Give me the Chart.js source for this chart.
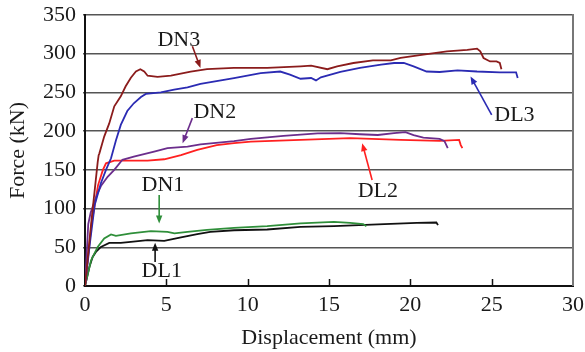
<!DOCTYPE html>
<html>
<head>
<meta charset="utf-8">
<script src="https://cdn.jsdelivr.net/npm/chart.js@4"></script>
<style>
html,body{margin:0;padding:0;background:#fff;}
#wrap{width:585px;height:352px;}
</style>
</head>
<body>
<div id="wrap"><canvas id="c" width="585" height="352"></canvas></div>
<script>
// ---- data ----
const dn3X = [0, 0.4, 0.78, 0.84, 0.88, 1.18, 1.49, 1.8, 2.2, 2.5, 2.82, 3.13, 3.4, 3.64, 3.85, 4.46, 5.28, 6.5, 7.5, 9.15, 11.2, 13.25, 13.9, 14.9, 15.5, 16.5, 17.7, 18.8, 19.4, 20.8, 22.25, 23.5, 24.1, 24.3, 24.5, 24.9, 25.3, 25.5, 25.6];
const dn3Y = [0, 85, 160, 169, 171, 193, 210, 232, 245, 258, 269, 277, 280, 277, 271.6, 270, 271.6, 277, 280, 281.6, 281.6, 283.7, 284.6, 280, 283.7, 288, 291.5, 291.5, 294.5, 298.8, 303, 305, 306.6, 303, 294.5, 290, 290, 288, 280];

const dl3X = [0, 0.3, 0.6, 0.98, 1.29, 1.6, 1.9, 2.2, 2.6, 3.0, 3.44, 3.74, 4.66, 5.48, 6.3, 7.1, 9.16, 10.8, 12.0, 12.6, 13.25, 13.9, 14.2, 14.5, 15.7, 16.9, 18.2, 19.0, 19.6, 20.2, 21.0, 21.8, 22.9, 24.1, 25.5, 26.5, 26.6];
const dl3Y = [0, 55, 105, 133, 150, 165, 188, 208, 226, 236, 244, 248, 250, 253.5, 256.5, 261, 268.6, 275, 277, 273, 267.7, 268.6, 265.5, 269.5, 276.4, 281.6, 286, 288, 288, 283.7, 277, 276.4, 278.5, 277, 276, 276, 268.6];

const dn2X = [0, 0.1, 0.2, 0.35, 0.6, 0.78, 1.0, 1.39, 1.8, 2.3, 3.0, 4.25, 5.07, 6.3, 7.1, 9.16, 10.2, 12.2, 14.3, 15.7, 16.9, 18.0, 19.0, 19.7, 20.2, 20.8, 21.8, 22.1, 22.3];
const dn2Y = [0, 40, 80, 95, 110, 120, 130, 141, 150, 163, 167, 173.6, 178, 180, 183, 187, 190, 194, 197, 197.4, 196, 195, 197.4, 198.7, 195, 191.7, 190, 187, 178];

const dl2X = [0, 0.4, 0.8, 1.1, 1.29, 1.8, 3.85, 4.87, 5.9, 6.9, 8.1, 9.16, 10.2, 13.25, 16.3, 19.4, 21.8, 23.0, 23.1, 23.2];
const dl2Y = [0, 80, 130, 150, 158.5, 162, 162, 163.7, 169, 175.8, 182, 184.5, 186.5, 188.7, 191, 188.7, 187.4, 188.7, 182, 178];

const dn1X = [0, 0.37, 0.78, 1.18, 1.6, 1.9, 2.82, 4.05, 5.07, 5.5, 6.3, 7.5, 9.16, 11.2, 13.25, 15.3, 16.3, 17.1, 17.3];
const dn1Y = [0, 33, 50.5, 61.4, 66.6, 64.8, 67.9, 70.9, 70, 68, 70, 72.5, 75, 77.3, 80.8, 82.9, 81.6, 80, 77.3];

const dl1X = [0, 0.27, 0.47, 0.67, 0.98, 1.49, 2.2, 2.82, 3.85, 4.87, 5.9, 6.9, 7.7, 9.16, 11.2, 13.25, 15.3, 18.4, 20.4, 21.6, 21.7];
const dl1Y = [0, 24.6, 37.6, 44, 50.5, 55.7, 55.7, 57, 59.2, 58.3, 62.7, 67, 70, 72, 73, 76.4, 77.3, 80, 81.6, 82, 78.6];

const seriesNames = ['DN3', 'DL3', 'DN2', 'DL2', 'DN1', 'DL1'];

// ---- styling ----
const FONT = '"Liberation Serif", "Times New Roman", serif';
const colors = {DN3: '#8b1c1c', DL3: '#2b2bb3', DN2: '#6b2d8c', DL2: '#ff2020', DN1: '#2f8f3a', DL1: '#111111'};
const seriesData = {DN3: [dn3X, dn3Y], DL3: [dl3X, dl3Y], DN2: [dn2X, dn2Y], DL2: [dl2X, dl2Y], DN1: [dn1X, dn1Y], DL1: [dl1X, dl1Y]};

function pts(xs, ys) { return xs.map((x, i) => ({x: x, y: ys[i]})); }

const datasets = seriesNames.map(n => ({
  label: n,
  data: pts(seriesData[n][0], seriesData[n][1]),
  borderColor: colors[n],
  backgroundColor: colors[n],
  borderWidth: 1.8,
  pointRadius: 0,
  tension: 0,
  fill: false
}));

// annotation labels and arrows, in data units
const labelTexts = ['DN3', 'DN2', 'DN1', 'DL1', 'DL2', 'DL3'];
const labelX = [5.77, 7.98, 4.79, 4.72, 18.0, 26.4];
const labelY = [318, 225, 130.4, 19, 122.7, 220];
const arrowFromX = [6.6, 6.6, 4.56, 4.31, 17.65, 25.0];
const arrowFromY = [309.6, 216.8, 117.5, 31, 137, 221];
const arrowToX = [7.1, 6.0, 4.56, 4.31, 17.04, 23.7];
const arrowToY = [281.6, 184.5, 80.8, 55.7, 184.5, 270.7];

const annotPlugin = {
  id: 'annot',
  afterDatasetsDraw(chart) {
    const ctx = chart.ctx;
    const xs = chart.scales.x, ys = chart.scales.y;
    const ca = chart.chartArea;
    ctx.save();
    // right frame border
    ctx.strokeStyle = '#777';
    ctx.lineWidth = 2;
    ctx.beginPath();
    ctx.moveTo(ca.right, ca.top - 1);
    ctx.lineTo(ca.right, ca.bottom);
    ctx.stroke();
    // inward x ticks
    ctx.strokeStyle = '#111';
    ctx.lineWidth = 1.5;
    for (let v = 5; v < 30; v += 5) {
      const px = Math.round(xs.getPixelForValue(v)) + 0.5;
      ctx.beginPath();
      ctx.moveTo(px, ca.bottom);
      ctx.lineTo(px, ca.bottom - 7);
      ctx.stroke();
    }
    // arrows
    for (let i = 0; i < labelTexts.length; i++) {
      const c = colors[labelTexts[i]];
      const x1 = xs.getPixelForValue(arrowFromX[i]), y1 = ys.getPixelForValue(arrowFromY[i]);
      const x2 = xs.getPixelForValue(arrowToX[i]), y2 = ys.getPixelForValue(arrowToY[i]);
      const ang = Math.atan2(y2 - y1, x2 - x1);
      const L = 8, W = 3.2;
      ctx.strokeStyle = c;
      ctx.fillStyle = c;
      ctx.lineWidth = 1.6;
      ctx.beginPath();
      ctx.moveTo(x1, y1);
      ctx.lineTo(x2 - Math.cos(ang) * L * 0.6, y2 - Math.sin(ang) * L * 0.6);
      ctx.stroke();
      ctx.beginPath();
      ctx.moveTo(x2, y2);
      ctx.lineTo(x2 - Math.cos(ang) * L - Math.sin(ang) * W, y2 - Math.sin(ang) * L + Math.cos(ang) * W);
      ctx.lineTo(x2 - Math.cos(ang) * L + Math.sin(ang) * W, y2 - Math.sin(ang) * L - Math.cos(ang) * W);
      ctx.closePath();
      ctx.fill();
    }
    // labels
    ctx.fillStyle = '#1a1a1a';
    ctx.font = '22px ' + FONT;
    ctx.textAlign = 'center';
    ctx.textBaseline = 'middle';
    for (let i = 0; i < labelTexts.length; i++) {
      ctx.fillText(labelTexts[i], xs.getPixelForValue(labelX[i]), ys.getPixelForValue(labelY[i]));
    }
    ctx.restore();
  }
};

new Chart(document.getElementById('c'), {
  type: 'line',
  data: {datasets: datasets},
  options: {
    responsive: false,
    animation: false,
    devicePixelRatio: 1,
    layout: {padding: {left: 0, right: 12, top: 15, bottom: 0}},
    plugins: {legend: {display: false}, tooltip: {enabled: false}},
    scales: {
      x: {
        type: 'linear',
        min: 0, max: 30,
        afterFit(s) { s.height = 66; s.paddingLeft = 0; s.paddingRight = 0; },
        ticks: {stepSize: 5, color: '#1a1a1a', font: {family: FONT, size: 22}, padding: 6, maxRotation: 0},
        grid: {drawOnChartArea: false, drawTicks: false},
        border: {color: '#111', width: 2},
        title: {display: true, text: 'Displacement (mm)', color: '#1a1a1a', font: {family: FONT, size: 22}, padding: {top: 0, bottom: 1}}
      },
      y: {
        min: 0, max: 350,
        afterFit(s) { s.width = 85; s.paddingTop = 0; s.paddingBottom = 0; },
        ticks: {stepSize: 50, color: '#1a1a1a', font: {family: FONT, size: 22}, padding: 7},
        grid: {color: '#555', lineWidth: 1.5, drawTicks: true, tickLength: 2},
        border: {color: '#111', width: 2},
        title: {display: true, text: 'Force (kN)', color: '#1a1a1a', font: {family: FONT, size: 22}, padding: {top: 5, bottom: 0}}
      }
    }
  },
  plugins: [annotPlugin]
});
</script>
</body>
</html>
